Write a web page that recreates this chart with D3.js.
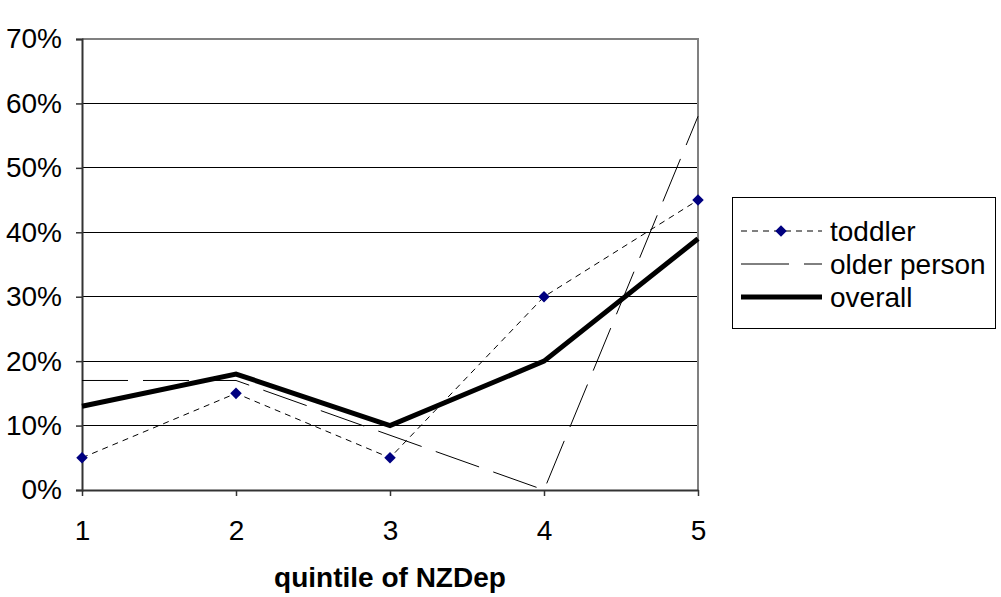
<!DOCTYPE html>
<html>
<head>
<meta charset="utf-8">
<script src="https://cdn.jsdelivr.net/npm/d3@7"></script>
<style>
  html, body { margin: 0; padding: 0; background: #fff; }
  svg { display: block; font-family: "Liberation Sans", Arial, sans-serif; }
</style>
</head>
<body>
<svg id="chart" width="1001" height="597"></svg>
<script>
// Quintiles of NZDep and the share in each group
const quintiles = [1, 2, 3, 4, 5];
const toddler = [0.05, 0.15, 0.05, 0.30, 0.45];
const olderPerson = [0.17, 0.17, 0.085, 0.0, 0.58];
const overall = [0.13, 0.18, 0.10, 0.20, 0.39];
const yTicks = [0, 0.1, 0.2, 0.3, 0.4, 0.5, 0.6, 0.7];
const seriesNames = ["toddler", "older person", "overall"];

const svg = d3.select("#chart");
const plot = { left: 82, right: 698, top: 39, bottom: 490 };
const fontSize = 28;

const x = d3.scalePoint().domain(quintiles).range([plot.left, plot.right]);
const y = d3.scaleLinear().domain([0, 0.7]).range([plot.bottom, plot.top]);

// horizontal gridlines
svg.append("g")
  .selectAll("line")
  .data(yTicks.filter(d => d > 0 && d < 0.7))
  .join("line")
  .attr("x1", plot.left).attr("x2", plot.right)
  .attr("y1", d => y(d)).attr("y2", d => y(d))
  .attr("stroke", "#000").attr("stroke-width", 1)
  .attr("shape-rendering", "crispEdges");

// plot-area frame (top and right)
svg.append("path")
  .attr("d", `M${plot.left},${y(0.7)}H${plot.right}V${plot.bottom}`)
  .attr("fill", "none").attr("stroke", "#808080").attr("stroke-width", 2);

// y axis
const yAxis = svg.append("g")
  .attr("transform", `translate(${plot.left},0)`)
  .call(d3.axisLeft(y).tickValues(yTicks).tickFormat(d3.format(".0%")).tickSize(6).tickPadding(14));
yAxis.select(".domain").attr("stroke", "#333").attr("stroke-width", 2);
yAxis.selectAll(".tick line").attr("stroke", "#333").attr("stroke-width", 1.5);
yAxis.selectAll("text").attr("font-size", fontSize).attr("fill", "#000")
  .attr("font-family", "Liberation Sans, Arial, sans-serif");

// x axis
const xAxis = svg.append("g")
  .attr("transform", `translate(0,${plot.bottom})`)
  .call(d3.axisBottom(x).tickSize(6).tickPadding(24).tickSizeOuter(0));
xAxis.select(".domain").attr("stroke", "#333").attr("stroke-width", 2);
xAxis.selectAll(".tick line").attr("stroke", "#333").attr("stroke-width", 1.5);
xAxis.selectAll("text").attr("font-size", fontSize).attr("fill", "#000")
  .attr("font-family", "Liberation Sans, Arial, sans-serif");

// axis title
svg.append("text")
  .attr("x", (plot.left + plot.right) / 2).attr("y", 587)
  .attr("text-anchor", "middle")
  .attr("font-size", fontSize).attr("font-weight", "bold")
  .text("quintile of NZDep");

const line = d3.line().x((d, i) => x(quintiles[i])).y(d => y(d));

// toddler: short dashes with navy diamond markers
svg.append("path").datum(toddler)
  .attr("d", line).attr("fill", "none")
  .attr("stroke", "#000").attr("stroke-width", 1)
  .attr("stroke-dasharray", "6,5");

// older person: long dashes
svg.append("path").datum(olderPerson)
  .attr("d", line).attr("fill", "none")
  .attr("stroke", "#000").attr("stroke-width", 1)
  .attr("stroke-dasharray", "46,15");

// overall: heavy solid line
svg.append("path").datum(overall)
  .attr("d", line).attr("fill", "none")
  .attr("stroke", "#000").attr("stroke-width", 5)
  .attr("stroke-linejoin", "miter");

const diamond = d3.symbol().type(d3.symbolDiamond2).size(85);
svg.append("g")
  .selectAll("path")
  .data(toddler)
  .join("path")
  .attr("d", diamond)
  .attr("transform", (d, i) => `translate(${x(quintiles[i])},${y(d)})`)
  .attr("fill", "#000080");

// legend
const legend = svg.append("g");
legend.append("rect")
  .attr("x", 732.5).attr("y", 197.5).attr("width", 263).attr("height", 131)
  .attr("fill", "#fff").attr("stroke", "#000").attr("stroke-width", 1);

const rowY = [231, 264, 297];
const styles = [
  { dash: "6,5", width: 1, marker: true },
  { dash: "48,15", width: 1, marker: false },
  { dash: null, width: 5, marker: false }
];
seriesNames.forEach((name, i) => {
  const s = styles[i];
  legend.append("line")
    .attr("x1", 741).attr("x2", 822)
    .attr("y1", rowY[i]).attr("y2", rowY[i])
    .attr("stroke", "#000").attr("stroke-width", s.width)
    .attr("stroke-dasharray", s.dash);
  if (s.marker) {
    legend.append("path").attr("d", diamond)
      .attr("transform", `translate(781,${rowY[i]})`)
      .attr("fill", "#000080");
  }
  legend.append("text")
    .attr("x", 830).attr("y", rowY[i]).attr("dy", "0.35em")
    .attr("font-size", fontSize).text(name);
});
</script>
</body>
</html>
